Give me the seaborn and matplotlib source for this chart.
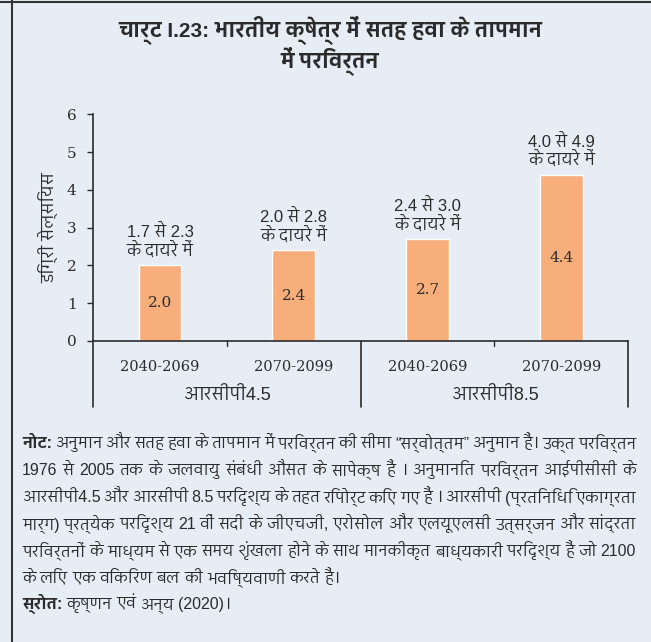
import numpy as np
import pandas as pd
import seaborn as sns
import matplotlib.pyplot as plt
from matplotlib import font_manager
from matplotlib.ft2font import FT2Font
from matplotlib.lines import Line2D

# chart data
scenarios = ['आरसीपी4.5', 'आरसीपी4.5', 'आरसीपी8.5', 'आरसीपी8.5']
periods = ['2040-2069', '2070-2099', '2040-2069', '2070-2099']
values = [2.0, 2.4, 2.7, 4.4]
ranges = ['1.7 से 2.3', '2.0 से 2.8', '2.4 से 3.0', '4.0 से 4.9']
range_suffix = 'के दायरे में'
y_ticks = [0, 1, 2, 3, 4, 5, 6]

title = 'चार्ट I.23: भारतीय क्षेत्र में सतह हवा के तापमान\nमें परिवर्तन'
ylabel = 'डिग्री सेल्सियस'
note_head = 'नोट:'
note_lines = [
    'अनुमान और सतह हवा के तापमान में परिवर्तन की सीमा “सर्वोत्तम” अनुमान हैं। उक्त परिवर्तन',
    '1976 से 2005 तक के जलवायु संबंधी औसत के सापेक्ष हैं । अनुमानित परिवर्तन आईपीसीसी के',
    'आरसीपी4.5 और आरसीपी 8.5 परिदृश्य के तहत रिपोर्ट किए गए हैं । आरसीपी (प्रतिनिधि एकाग्रता',
    'मार्ग) प्रत्येक परिदृश्य 21 वीं सदी के जीएचजी, एरोसोल और एलयूएलसी उत्सर्जन और सांद्रता',
    'परिवर्तनों के माध्यम से एक समय शृंखला होने के साथ मानकीकृत बाध्यकारी परिदृश्य हैं जो 2100',
    'के लिए एक विकिरण बल की भविष्यवाणी करते हैं।',
]
source_head = 'स्रोत:'
source_text = 'कृष्णन एवं अन्य (2020)।'

BG = '#E6EDF5'
BAR = '#F7AE7B'
TXT = '#2B2B2B'
W, H = 651, 642


def find_deva_font():
    # installed fonts that carry Devanagari, prefer proportional sans ones
    names = set()
    for f in font_manager.fontManager.ttflist:
        try:
            if FT2Font(f.fname).get_char_index(0x0915):
                names.add(f.name)
        except Exception:
            continue

    def score(n):
        s = 0
        if 'Mono' in n:
            s -= 10
        if 'Sans' in n:
            s += 5
        if 'Devanagari' in n:
            s += 3
        return s
    return max(sorted(names), key=score) if names else 'DejaVu Sans'


sns.set_theme(style='white')
deva = find_deva_font()
SANS = ['Liberation Sans', deva, 'DejaVu Sans']
SERIF = ['DejaVu Serif']
plt.rcParams['font.family'] = SANS

df = pd.DataFrame({'scenario': scenarios, 'period': periods, 'value': values})
df['key'] = df['scenario'] + ' ' + df['period']

fig = plt.figure(figsize=(W / 100, H / 100), dpi=100, facecolor=BG)
ax = fig.add_axes([0.143, 0.469, 0.822, 0.353], facecolor=BG)

sns.barplot(data=df, x='key', y='value', color=BAR, saturation=1, width=0.32, ax=ax)

ax.set_xlim(-0.5, 3.5)
ax.set_ylim(0, 6)
ax.set_yticks(y_ticks)
ax.set_yticklabels([str(t) for t in y_ticks], family=SERIF, fontsize=11, color=TXT)
ax.set_xticks(range(len(periods)))
ax.set_xticklabels(periods, family=SERIF, fontsize=10.5, color=TXT)
ax.tick_params(axis='x', length=0, pad=14)
ax.tick_params(axis='y', length=4, width=1, color=TXT, direction='out', left=True, pad=8)
ax.set_xlabel('')
ax.set_ylabel(ylabel, fontsize=12.5, color=TXT, labelpad=5)

for s in ['top', 'right']:
    ax.spines[s].set_visible(False)
for s in ['left', 'bottom']:
    ax.spines[s].set_color(TXT)
    ax.spines[s].set_linewidth(1.2)

# bar labels
for i, (v, r) in enumerate(zip(values, ranges)):
    ax.text(i, v / 2, f'{v:.1f}', ha='center', va='center', family=SERIF,
            fontsize=11, color=TXT)
    ax.annotate(r + '\n' + range_suffix, xy=(i, v), xytext=(0, 4),
                textcoords='offset points', ha='center', va='bottom',
                fontsize=12, color=TXT, linespacing=1.1)

# group separators and group labels under the axis
xt = ax.get_xaxis_transform()
for x in [-0.5, 1.5, 3.5]:
    ax.plot([x, x], [0, -0.29], transform=xt, color=TXT, lw=1.2, clip_on=False)
for x in [0.5, 2.5]:
    ax.plot([x, x], [0, -0.022], transform=xt, color=TXT, lw=1, clip_on=False)
for gx, name in [(0.5, scenarios[0]), (2.5, scenarios[2])]:
    ax.text(gx, -0.245, name, transform=xt, ha='center', va='center',
            fontsize=13, color=TXT)

fig.text(0.507, 0.975, title, ha='center', va='top', fontsize=15,
         fontweight='bold', color=TXT, linespacing=1.08)

# frame lines
fig.add_artist(Line2D([0.018, 0.018], [0, 1], color='#333333', lw=1.5))
fig.add_artist(Line2D([0, 1], [0.997, 0.997], color='#333333', lw=1.5))

# note and source, first lines justified to the block width
renderer = fig.canvas.get_renderer()
left_px, right_px = 22, 636


def place_line(words, y_px, justify, fs=11.5):
    arts = []
    for w, bold in words:
        t = fig.text(0, 1 - y_px / H, w, fontsize=fs, color=TXT, va='baseline',
                     fontweight='bold' if bold else 'normal')
        arts.append((t, t.get_window_extent(renderer).width))
    total = sum(wd for _, wd in arts)
    if total + 2.5 * (len(arts) - 1) > right_px - left_px:
        # too long for the block, shrink this line
        for t, _ in arts:
            t.remove()
        return place_line(words, y_px, justify, fs - 0.25)
    gap = 4.0
    if justify and len(arts) > 1:
        gap = (right_px - left_px - total) / (len(arts) - 1)
    x = left_px
    for t, wd in arts:
        t.set_x(x / W)
        x += wd + gap


y_px = 448
for k, line in enumerate(note_lines):
    words = [(w, False) for w in line.split(' ')]
    if k == 0:
        words = [(note_head, True)] + words
    place_line(words, y_px, justify=(k < len(note_lines) - 1))
    y_px += 27
place_line([(source_head, True)] + [(w, False) for w in source_text.split(' ')],
           y_px - 1, justify=False)

fig.savefig('out.png', dpi=100, facecolor=BG)
